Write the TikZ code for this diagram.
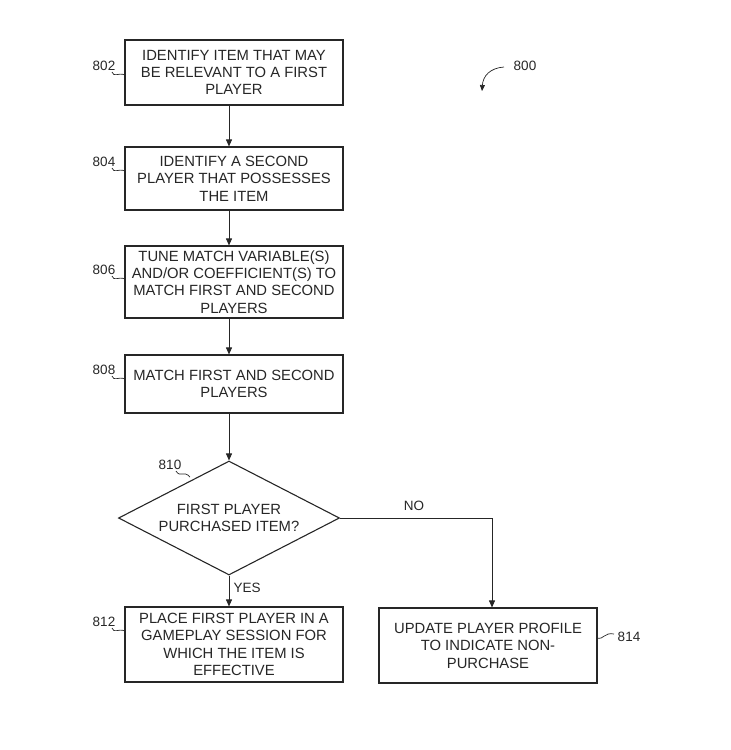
\documentclass[tikz,border=0pt]{standalone}
\usepackage{fontspec}
\setmainfont{Liberation Sans}
\usetikzlibrary{arrows.meta,shapes.geometric,decorations.pathmorphing}
\begin{document}
\begin{tikzpicture}[x=1pt,y=-1pt,
  box/.style={draw=black!85,line width=1.1pt,minimum width=218pt,align=center,inner sep=1pt,text=black!85,font=\fontsize{14.8}{17.4}\selectfont},
  lbl/.style={text=black!85,font=\fontsize{13.5}{15}\selectfont},
  arr/.style={draw=black!85,-{Triangle[length=7pt,width=6pt]},line width=0.8pt},
  sq/.style={draw=black!85,line width=0.7pt}]
\useasboundingbox (0,0) rectangle (731,750);
\node[box,minimum height=65pt] (b802) at (234,72.5) {IDENTIFY ITEM THAT MAY\\BE RELEVANT TO A FIRST\\PLAYER};
\node[box,minimum height=63pt] (b804) at (234,178.5) {IDENTIFY A SECOND\\PLAYER THAT POSSESSES\\THE ITEM};
\node[box,minimum height=72pt] (b806) at (234,282) {TUNE MATCH VARIABLE(S)\\AND/OR COEFFICIENT(S) TO\\MATCH FIRST AND SECOND\\PLAYERS};
\node[box,minimum height=58pt] (b808) at (234,384) {MATCH FIRST AND SECOND\\PLAYERS};
\node[draw=black!85,text=black!85,line width=1.1pt,diamond,aspect=1.95,minimum width=221pt,minimum height=114pt,inner sep=0pt,align=center,font=\fontsize{14.8}{17.4}\selectfont] (d810) at (229,518) {FIRST PLAYER\\PURCHASED ITEM?};
\node[box,minimum height=75pt] (b812) at (234,644.5) {PLACE FIRST PLAYER IN A\\GAMEPLAY SESSION FOR\\WHICH THE ITEM IS\\EFFECTIVE};
\node[box,minimum height=75pt] (b814) at (488,645.5) {UPDATE PLAYER PROFILE\\TO INDICATE NON-\\PURCHASE};
\coordinate (c1) at (229,0);
\draw[arr] (b802.south -| c1) -- (b804.north -| c1);
\draw[arr] (b804.south -| c1) -- (b806.north -| c1);
\draw[arr] (b806.south -| c1) -- (b808.north -| c1);
\draw[arr] (b808.south -| c1) -- (d810.north);
\draw[arr] (d810.south) -- (b812.north -| c1) node[pos=0.4,right,lbl,xshift=1pt] (yes) {YES};
\coordinate (c2) at (492,0);
\draw[arr] (d810.east) -- (d810.east -| c2) -- (b814.north -| c2);
\node[lbl] (no) at (414,506) {NO};
% reference labels
\node[lbl] (l802) at (104,66) {802};
\node[lbl] (l804) at (104,162) {804};
\node[lbl] (l806) at (104,270) {806};
\node[lbl] (l808) at (104,370) {808};
\node[lbl] (l810) at (170,465) {810};
\node[lbl] (l812) at (104,622) {812};
\node[lbl] (l814) at (629,637) {814};
\node[lbl] (l800) at (525,66) {800};
\draw[sq] (112,72) .. controls (114,78) and (118,72) .. (125,75);
\draw[sq] (112,168) .. controls (114,174) and (118,168) .. (125,171);
\draw[sq] (112,276) .. controls (114,282) and (118,276) .. (125,279);
\draw[sq] (112,376) .. controls (114,382) and (118,376) .. (125,379);
\draw[sq] (112,628) .. controls (114,634) and (118,628) .. (125,631);
\draw[sq] (176,471) .. controls (180,478) and (184,470) .. (190,477);
\draw[sq] (597,638) .. controls (604,640) and (604,632) .. (614,634);
\draw[arr,line width=0.7pt,-{Triangle[length=6pt,width=5pt]}] (504,67) .. controls (490,68) and (483,76) .. (482,91);
\end{tikzpicture}
\end{document}
